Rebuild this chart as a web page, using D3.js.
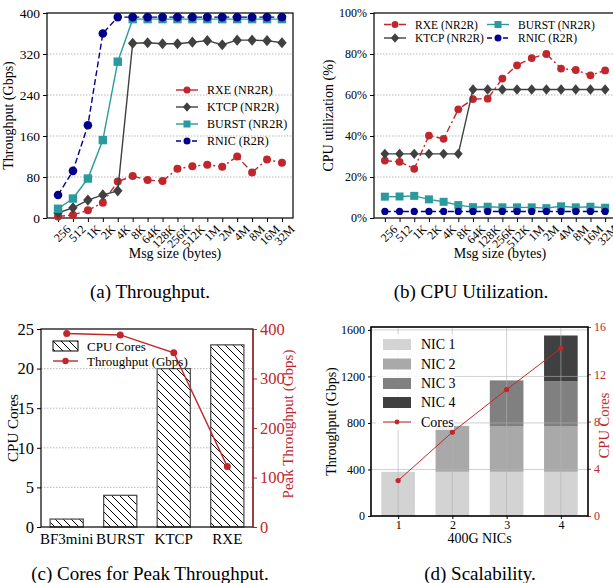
<!DOCTYPE html>
<html>
<head>
<meta charset="utf-8">
<script src="https://cdn.jsdelivr.net/npm/d3@7"></script>
<style>
body { margin: 0; background: #fff; }
svg, svg text { font-family: "Liberation Serif", "Times New Roman", serif; }
</style>
</head>
<body>
<div id="chart"></div>
<script>
// ---- data ----
var msgSizes = ["256", "512", "1K", "2K", "4K", "8K", "64K", "128K", "256K", "512K", "1M", "2M", "4M", "8M", "16M", "32M"];

// (a) throughput, Gbps
var tputRXE   = [3, 6, 15, 30, 71, 82, 74, 72, 96, 101, 104, 100, 120, 89, 114, 108];
var tputKTCP  = [10, 20, 35, 45, 53, 341, 342, 340, 340, 343, 346, 338, 347, 347, 346, 342];
var tputBURST = [18, 38, 77, 152, 305, 388, 388, 388, 388, 388, 388, 388, 388, 388, 388, 388];
var tputRNIC  = [45, 92, 181, 360, 392, 392, 392, 392, 392, 392, 392, 392, 392, 392, 392, 392];

// (b) cpu utilization, %
var cpuRXE   = [28, 27.4, 24, 40.2, 38.6, 53, 58, 58.2, 68, 74.5, 78, 80, 72.9, 72.2, 69.6, 72];
var cpuKTCP  = [31.3, 31.3, 31.3, 31.3, 31.3, 31.3, 62.7, 62.7, 62.7, 62.7, 62.7, 62.7, 62.7, 62.7, 62.7, 62.7];
var cpuBURST = [10.4, 10.5, 10.8, 9.1, 7.9, 6.3, 5.3, 5.5, 5.2, 5.2, 5.2, 4.8, 5.7, 5.2, 5.5, 5.0];
var cpuRNIC  = [3.2, 3.2, 3.2, 3.2, 3.2, 3.2, 3.2, 3.2, 3.2, 3.2, 3.2, 3.2, 3.2, 3.2, 3.2, 3.2];

var aTicks = [0, 80, 160, 240, 320, 400];
var bTicks = [0, 20, 40, 60, 80, 100];

// (c) cores for peak throughput
var stacks = ["BF3mini", "BURST", "KTCP", "RXE"];
var stackCores = [1, 4, 20, 23];
var stackPeak = [391, 388, 352, 122];

// (d) scalability
var nicCounts = [1, 2, 3, 4];
var nic1 = [380, 380, 380, 380];
var nic2 = [0, 395, 389, 389];
var nic3 = [0, 0, 397, 388];
var nic4 = [0, 0, 0, 395];
var scaleCores = [3.0, 7.1, 10.7, 14.2];

var red = "#c0272d", dark = "#404040", teal = "#2b9a9e", navy = "#00008b";
var serif = "Liberation Serif, Times New Roman, serif";

var svg = d3.select("#chart").append("svg")
    .attr("width", 613)
    .attr("height", 583)
    .attr("font-family", serif);

var defs = svg.append("defs");
var pat = defs.append("pattern")
    .attr("id", "hatch")
    .attr("patternUnits", "userSpaceOnUse")
    .attr("width", 8)
    .attr("height", 8);
pat.append("rect").attr("width", 8).attr("height", 8).attr("fill", "#fff");
pat.append("path")
    .attr("d", "M-2,-2L10,10M-2,6L2,10M6,-2L10,2")
    .attr("stroke", "#000")
    .attr("stroke-width", 1);

// marker drawing
function marker(g, shape, x, y, color, s) {
    if (shape == "circle") {
        g.append("circle").attr("cx", x).attr("cy", y).attr("r", s).attr("fill", color);
    } else if (shape == "square") {
        g.append("rect").attr("x", x - s).attr("y", y - s).attr("width", 2 * s).attr("height", 2 * s).attr("fill", color);
    } else if (shape == "diamond") {
        g.append("path")
            .attr("d", "M" + x + "," + (y - s * 1.3) + "L" + (x + s * 1.1) + "," + y + "L" + x + "," + (y + s * 1.3) + "L" + (x - s * 1.1) + "," + y + "Z")
            .attr("fill", color);
    }
}

function series(g, x, y, vals, color, dash, shape, s) {
    var line = d3.line()
        .x(function (d, i) { return x(msgSizes[i]); })
        .y(function (d) { return y(d); });
    g.append("path")
        .datum(vals)
        .attr("d", line)
        .attr("fill", "none")
        .attr("stroke", color)
        .attr("stroke-width", 1.4)
        .attr("stroke-dasharray", dash);
    vals.forEach(function (d, i) {
        marker(g, shape, x(msgSizes[i]), y(d), color, s);
    });
}

function legendItem(g, x0, y0, color, dash, shape, s, label, fs) {
    g.append("line")
        .attr("x1", x0).attr("x2", x0 + 22)
        .attr("y1", y0).attr("y2", y0)
        .attr("stroke", color)
        .attr("stroke-width", 1.4)
        .attr("stroke-dasharray", dash);
    marker(g, shape, x0 + 11, y0, color, s);
    g.append("text")
        .attr("x", x0 + 31).attr("y", y0)
        .attr("dy", "0.35em")
        .attr("font-size", fs)
        .text(label);
}

function styleTicks(sel, fs, color) {
    sel.selectAll("text")
        .attr("font-size", fs)
        .attr("font-family", serif)
        .attr("fill", color || "#000");
}

function msgPanel(L, R, T, B, yDomain, ticks, fmt, tickFs, data, ylabel) {
    var g = svg.append("g");
    var x = d3.scalePoint().domain(msgSizes).range([L, R]).padding(0.74);
    var y = d3.scaleLinear().domain(yDomain).range([B, T]);

    g.selectAll(".grid")
        .data(ticks.slice(1, -1))
        .enter().append("line")
        .attr("x1", L).attr("x2", R)
        .attr("y1", function (d) { return y(d); })
        .attr("y2", function (d) { return y(d); })
        .attr("stroke", "#aaa")
        .attr("stroke-width", 0.8)
        .attr("stroke-dasharray", "1.5,1.5");

    var ya = g.append("g")
        .attr("transform", "translate(" + L + ",0)")
        .call(d3.axisLeft(y).tickValues(ticks).tickFormat(fmt).tickSize(4).tickSizeOuter(0));
    ya.select(".domain").remove();
    styleTicks(ya, tickFs);

    var xa = g.append("g")
        .attr("transform", "translate(0," + B + ")")
        .call(d3.axisBottom(x).tickSize(4).tickSizeOuter(0));
    xa.select(".domain").remove();
    styleTicks(xa, 12);
    xa.selectAll("text")
        .attr("text-anchor", "end")
        .attr("dy", "0.35em")
        .attr("transform", "translate(5,4) rotate(-45)");

    g.append("rect")
        .attr("x", L).attr("y", T)
        .attr("width", R - L).attr("height", B - T)
        .attr("fill", "none")
        .attr("stroke", "#000")
        .attr("stroke-width", 1.2);

    data.forEach(function (d) {
        series(g, x, y, d.vals, d.color, d.dash, d.shape, d.s);
    });

    g.append("text")
        .attr("x", (L + R) / 2 + 5).attr("y", 258)
        .attr("text-anchor", "middle")
        .attr("font-size", 14)
        .text("Msg size (bytes)");

    g.append("text")
        .attr("transform", "translate(" + (L - 34 - (tickFs > 12 ? 0 : 7)) + "," + ((T + B) / 2) + ") rotate(-90)")
        .attr("text-anchor", "middle")
        .attr("font-size", 14)
        .text(ylabel);
    return g;
}

// ---- (a) ----
var ga = msgPanel(47, 293, 13, 218, [0, 400], aTicks, d3.format("d"), 13.5, [
    { vals: tputRXE, color: red, dash: "7,3,2,3", shape: "circle", s: 4 },
    { vals: tputKTCP, color: dark, dash: null, shape: "diamond", s: 4.3 },
    { vals: tputBURST, color: teal, dash: null, shape: "square", s: 4.2 },
    { vals: tputRNIC, color: navy, dash: "6,3", shape: "circle", s: 4.3 }
], "Throughput (Gbps)");
legendItem(ga, 176, 90, red, null, "circle", 3.5, "RXE (NR2R)", 12);
legendItem(ga, 176, 107, dark, null, "diamond", 3.7, "KTCP (NR2R)", 12);
legendItem(ga, 176, 124, teal, null, "square", 3.5, "BURST (NR2R)", 12);
legendItem(ga, 176, 141, navy, "5,3", "circle", 3.5, "RNIC (R2R)", 12);
ga.append("text").attr("x", 150).attr("y", 298).attr("text-anchor", "middle")
    .attr("font-size", 19).text("(a)  Throughput.");

// ---- (b) ----
var gb = msgPanel(374, 616, 13, 218, [0, 100], bTicks, function (d) { return d + "%"; }, 12, [
    { vals: cpuRXE, color: red, dash: "7,3,2,3", shape: "circle", s: 3.9 },
    { vals: cpuKTCP, color: dark, dash: null, shape: "diamond", s: 4 },
    { vals: cpuBURST, color: teal, dash: null, shape: "square", s: 4 },
    { vals: cpuRNIC, color: navy, dash: "6,3", shape: "circle", s: 3.6 }
], "CPU utilization (%)");
legendItem(gb, 384, 24.5, red, "7,3,2,3", "circle", 3.5, "RXE (NR2R)", 11.5);
legendItem(gb, 384, 38, dark, null, "diamond", 3.7, "KTCP (NR2R)", 11.5);
legendItem(gb, 487, 24.5, teal, null, "square", 3.5, "BURST (NR2R)", 11.5);
legendItem(gb, 487, 38, navy, "5,3", "circle", 3.5, "RNIC (R2R)", 11.5);
gb.append("text").attr("x", 471).attr("y", 298).attr("text-anchor", "middle")
    .attr("font-size", 19).text("(b)  CPU Utilization.");

// ---- (c) ----
(function () {
    var L = 41, R = 253, T = 329, B = 527;
    var g = svg.append("g");
    var x = d3.scaleBand().domain(stacks).range([L, R]).paddingInner(0.38).paddingOuter(0.17);
    var y = d3.scaleLinear().domain([0, 25]).range([B, T]);
    var y2 = d3.scaleLinear().domain([0, 400]).range([B, T]);

    g.selectAll(".grid")
        .data([5, 10, 15, 20])
        .enter().append("line")
        .attr("x1", L).attr("x2", R)
        .attr("y1", function (d) { return y(d); })
        .attr("y2", function (d) { return y(d); })
        .attr("stroke", "#aaa")
        .attr("stroke-width", 0.8)
        .attr("stroke-dasharray", "1.5,1.5");

    g.selectAll(".bar")
        .data(stackCores)
        .enter().append("rect")
        .attr("x", function (d, i) { return x(stacks[i]); })
        .attr("y", function (d) { return y(d); })
        .attr("width", x.bandwidth())
        .attr("height", function (d) { return B - y(d); })
        .attr("fill", "url(#hatch)")
        .attr("stroke", "#555")
        .attr("stroke-width", 1.3);

    var line = d3.line()
        .x(function (d, i) { return x(stacks[i]) + x.bandwidth() / 2; })
        .y(function (d) { return y2(d); });
    g.append("path").datum(stackPeak).attr("d", line)
        .attr("fill", "none").attr("stroke", red).attr("stroke-width", 1.4);
    stackPeak.forEach(function (d, i) {
        marker(g, "circle", x(stacks[i]) + x.bandwidth() / 2, y2(d), red, 3.5);
    });

    var ya = g.append("g").attr("transform", "translate(" + L + ",0)")
        .call(d3.axisLeft(y).tickValues([0, 5, 10, 15, 20, 25]).tickSize(4).tickSizeOuter(0));
    ya.select(".domain").remove();
    styleTicks(ya, 16.5);

    var yb = g.append("g").attr("transform", "translate(" + R + ",0)")
        .call(d3.axisRight(y2).tickValues([0, 100, 200, 300, 400]).tickSize(4).tickSizeOuter(0));
    yb.select(".domain").remove();
    yb.selectAll("line").attr("stroke", red);
    styleTicks(yb, 16.5, red);

    var xa = g.append("g").attr("transform", "translate(0," + B + ")")
        .call(d3.axisBottom(x).tickSize(0).tickSizeOuter(0));
    xa.select(".domain").remove();
    styleTicks(xa, 15);
    xa.selectAll("text").attr("dy", "0.95em");

    g.append("rect").attr("x", L).attr("y", T).attr("width", R - L).attr("height", B - T)
        .attr("fill", "none").attr("stroke", "#000").attr("stroke-width", 1.2);
    g.append("line").attr("x1", R).attr("x2", R).attr("y1", T).attr("y2", B)
        .attr("stroke", red).attr("stroke-width", 1.2);

    // legend
    g.append("rect").attr("x", 53).attr("y", 341).attr("width", 25).attr("height", 10)
        .attr("fill", "url(#hatch)").attr("stroke", "#000").attr("stroke-width", 1);
    g.append("text").attr("x", 87).attr("y", 346).attr("dy", "0.35em").attr("font-size", 13).text("CPU Cores");
    g.append("line").attr("x1", 53).attr("x2", 78).attr("y1", 361).attr("y2", 361)
        .attr("stroke", red).attr("stroke-width", 1.4);
    marker(g, "circle", 65.5, 361, red, 3.2);
    g.append("text").attr("x", 87).attr("y", 361).attr("dy", "0.35em").attr("font-size", 13).text("Throughput (Gbps)");

    g.append("text").attr("transform", "translate(18," + ((T + B) / 2) + ") rotate(-90)")
        .attr("text-anchor", "middle").attr("font-size", 15).text("CPU Cores");
    g.append("text").attr("transform", "translate(293," + ((T + B) / 2 - 4) + ") rotate(-90)")
        .attr("text-anchor", "middle").attr("font-size", 15).attr("fill", red).text("Peak Throughput (Gbps)");
    g.append("text").attr("x", 150).attr("y", 580).attr("text-anchor", "middle")
        .attr("font-size", 19).text("(c)  Cores for Peak Throughput.");
})();

// ---- (d) ----
(function () {
    var L = 371, R = 588, T = 327, B = 516;
    var g = svg.append("g");
    var x = d3.scaleLinear().domain([0.5, 4.5]).range([L, R]);
    var y = d3.scaleLinear().domain([0, 1625]).range([B, T]);
    var y2 = d3.scaleLinear().domain([0, 16]).range([B, T]);
    var bw = x(1.31) - x(1);

    var rows = nicCounts.map(function (n, i) {
        return { n: n, nic1: nic1[i], nic2: nic2[i], nic3: nic3[i], nic4: nic4[i] };
    });
    var keys = ["nic1", "nic2", "nic3", "nic4"];
    var fills = ["#d3d3d3", "#a9a9a9", "#808080", "#404040"];
    var stacked = d3.stack().keys(keys)(rows);

    stacked.forEach(function (layer, k) {
        g.selectAll(".l" + k)
            .data(layer.filter(function (d) { return d[1] > d[0]; }))
            .enter().append("rect")
            .attr("x", function (d) { return x(d.data.n) - bw; })
            .attr("y", function (d) { return y(d[1]); })
            .attr("width", bw * 2)
            .attr("height", function (d) { return y(d[0]) - y(d[1]); })
            .attr("fill", fills[k]);
    });

    // grid on top
    var yt = [0, 400, 800, 1200, 1600];
    g.selectAll(".hg").data(yt.slice(1)).enter().append("line")
        .attr("x1", L).attr("x2", R)
        .attr("y1", function (d) { return y(d); }).attr("y2", function (d) { return y(d); })
        .attr("stroke", "#b0b0b0").attr("stroke-opacity", 0.6).attr("stroke-width", 1);
    g.selectAll(".vg").data(nicCounts).enter().append("line")
        .attr("x1", function (d) { return x(d); }).attr("x2", function (d) { return x(d); })
        .attr("y1", T).attr("y2", B)
        .attr("stroke", "#b0b0b0").attr("stroke-opacity", 0.6).attr("stroke-width", 1);

    var line = d3.line()
        .x(function (d, i) { return x(nicCounts[i]); })
        .y(function (d) { return y2(d); });
    g.append("path").datum(scaleCores).attr("d", line)
        .attr("fill", "none").attr("stroke", red).attr("stroke-width", 1);
    scaleCores.forEach(function (d, i) {
        marker(g, "circle", x(nicCounts[i]), y2(d), red, 2.6);
    });

    var ya = g.append("g").attr("transform", "translate(" + L + ",0)")
        .call(d3.axisLeft(y).tickValues(yt).tickFormat(d3.format("d")).tickSize(3).tickSizeOuter(0));
    ya.select(".domain").remove();
    styleTicks(ya, 12);

    var yb = g.append("g").attr("transform", "translate(" + R + ",0)")
        .call(d3.axisRight(y2).tickValues([0, 4, 8, 12, 16]).tickSize(3).tickSizeOuter(0));
    yb.select(".domain").remove();
    yb.selectAll("line").attr("stroke", red);
    styleTicks(yb, 12, red);

    var xa = g.append("g").attr("transform", "translate(0," + B + ")")
        .call(d3.axisBottom(x).tickValues(nicCounts).tickFormat(d3.format("d")).tickSize(3).tickSizeOuter(0));
    xa.select(".domain").remove();
    styleTicks(xa, 12);
    xa.selectAll("text").attr("dy", "0.6em");

    g.append("rect").attr("x", L).attr("y", T).attr("width", R - L).attr("height", B - T)
        .attr("fill", "none").attr("stroke", "#000").attr("stroke-width", 1.6);

    // legend
    g.append("rect").attr("x", 376).attr("y", 334).attr("width", 78).attr("height", 96)
        .attr("fill", "#fff").attr("fill-opacity", 0.8);
    var names = ["NIC 1", "NIC 2", "NIC 3", "NIC 4"];
    var ly = [344.5, 364, 383.5, 402.5];
    names.forEach(function (nm, k) {
        g.append("rect").attr("x", 383).attr("y", ly[k] - 5.5).attr("width", 28).attr("height", 11)
            .attr("fill", fills[k]);
        g.append("text").attr("x", 421).attr("y", ly[k]).attr("dy", "0.35em")
            .attr("font-size", 14).text(nm);
    });
    g.append("line").attr("x1", 383).attr("x2", 411).attr("y1", 422).attr("y2", 422)
        .attr("stroke", red).attr("stroke-opacity", 0.55).attr("stroke-width", 2);
    marker(g, "circle", 397, 422, red, 2.4);
    g.append("text").attr("x", 421).attr("y", 422).attr("dy", "0.35em")
        .attr("font-size", 14).text("Cores");

    g.append("text").attr("x", (L + R) / 2).attr("y", 543).attr("text-anchor", "middle")
        .attr("font-size", 14).text("400G NICs");
    g.append("text").attr("transform", "translate(336," + ((T + B) / 2) + ") rotate(-90)")
        .attr("text-anchor", "middle").attr("font-size", 14).text("Throughput (Gbps)");
    g.append("text").attr("transform", "translate(609," + ((T + B) / 2 + 4) + ") rotate(-90)")
        .attr("text-anchor", "middle").attr("font-size", 14.5).attr("fill", red).text("CPU Cores");
    g.append("text").attr("x", 480).attr("y", 580).attr("text-anchor", "middle")
        .attr("font-size", 19).text("(d)  Scalability.");
})();
</script>
</body>
</html>
